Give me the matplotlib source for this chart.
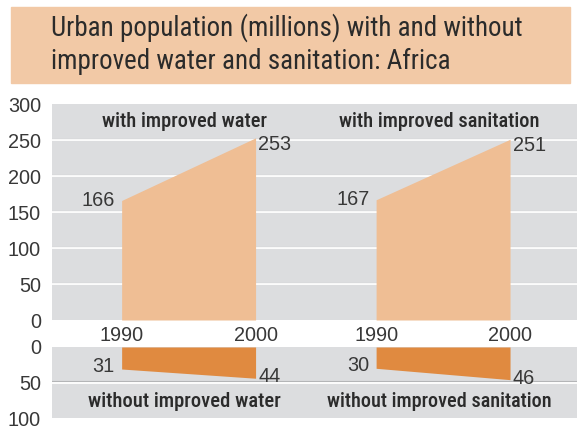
import matplotlib
matplotlib.use("Agg")
import matplotlib.pyplot as plt
from matplotlib import font_manager
from matplotlib.patches import Rectangle

years = [1990, 2000]
with_water = [166, 253]
with_sanitation = [167, 251]
without_water = [31, 44]
without_sanitation = [30, 46]

title = "Urban population (millions) with and without\nimproved water and sanitation: Africa"
top_labels = ["with improved water", "with improved sanitation"]
bottom_labels = ["without improved water", "without improved sanitation"]

GRAY = "#dcdddf"
LIGHT = "#efbe94"
DARK = "#e08a40"
TXT = "#2b2b2b"
NUMC = "#383838"
NUMFONT = "Liberation Sans"
NUMSIZE = 14.3

# pick a narrow face if one is around, the original uses a condensed sans
names = {f.name for f in font_manager.fontManager.ttflist}
NARROW = "DejaVu Sans"
STRETCH = "normal"
for cand in ["Liberation Sans Narrow", "Roboto Condensed", "Open Sans Condensed",
             "DejaVu Sans Condensed"]:
    if cand in names:
        NARROW = cand
        break
else:
    for f in font_manager.fontManager.ttflist:
        if f.name == "DejaVu Sans" and f.stretch == "condensed":
            STRETCH = "condensed"
            break

shift = [0, 19]  # second panel sits 19 "years" to the right
xlim = (1984.8, 2024.0)

fig = plt.figure(figsize=(5.8, 4.29), dpi=100)
renderer = fig.canvas.get_renderer()


def fit(t, width_px):
    # scale font so the text gets the same width as in the original
    w = t.get_window_extent(renderer).width
    t.set_fontsize(t.get_fontsize() * width_px / w)


# title box
fig.patches.append(Rectangle((11 / 580, 1 - 83 / 429), 559 / 580, 76 / 429,
                             transform=fig.transFigure, color="#f2c9a6", zorder=0))
tt = fig.text(51 / 580, 1 - 44 / 429, title, fontsize=17.5, family=NARROW, stretch=STRETCH,
              color=TXT, va="center", ha="left", linespacing=1.25)
fit(tt, 472)

ax = fig.add_axes([52 / 580, 1 - 320 / 429, 525 / 580, 216 / 429])
ax2 = fig.add_axes([52 / 580, 1 - 418 / 429, 525 / 580, 71 / 429])

for a in (ax, ax2):
    a.set_facecolor(GRAY)
    for s in a.spines.values():
        s.set_visible(False)
    a.set_xlim(*xlim)
    a.tick_params(axis="y", length=0, pad=8, labelsize=NUMSIZE, labelcolor=NUMC)
    for lab in a.get_yticklabels():
        lab.set_family(NUMFONT)

# top panel
ax.set_ylim(0, 300)
ax.set_yticks(range(0, 301, 50))
for g in range(50, 300, 50):
    ax.axhline(g + 1.0, color="#b4b5b7", lw=0.8, zorder=1)
    ax.axhline(g, color="white", lw=1.3, zorder=1)

top_w = [165, 200]
for k, vals in enumerate([with_water, with_sanitation]):
    xs = [y + shift[k] for y in years]
    ax.fill_between(xs, 0, vals, color=LIGHT, lw=0, zorder=2)
    ax.text(xs[0] - 0.5, vals[0], str(vals[0]), ha="right", va="center",
            fontsize=NUMSIZE, family=NUMFONT, color=NUMC)
    ax.text(xs[1] + 0.2, vals[1] - 9, str(vals[1]), ha="left", va="center",
            fontsize=NUMSIZE, family=NUMFONT, color=NUMC)
    t = ax.text((xs[0] + xs[1]) / 2 - 0.3, 276, top_labels[k], ha="center", va="center",
                fontsize=12, family=NARROW, stretch=STRETCH, color=TXT, fontweight="medium")
    fit(t, top_w[k])

xt = [y + s for s in shift for y in years]
ax.set_xticks(xt)
ax.set_xticklabels([str(y) for s in shift for y in years])
ax.tick_params(axis="x", length=0, pad=4, labelsize=NUMSIZE, labelcolor=NUMC)
for lab in ax.get_xticklabels():
    lab.set_family(NUMFONT)

# bottom panel (inverted)
ax2.set_ylim(100, 0)
ax2.set_yticks([0, 50, 100])
ax2.set_xticks([])
ax2.axhline(50 - 1.5, color="#b4b5b7", lw=0.8, zorder=1)
ax2.axhline(50, color="white", lw=1.3, zorder=1)

bot_w = [192, 225]
for k, vals in enumerate([without_water, without_sanitation]):
    xs = [y + shift[k] for y in years]
    ax2.fill_between(xs, 0, vals, color=DARK, lw=0, zorder=2)
    ax2.text(xs[0] - 0.5, vals[0] - 4, str(vals[0]), ha="right", va="center",
             fontsize=NUMSIZE, family=NUMFONT, color=NUMC)
    ax2.text(xs[1] + 0.2, vals[1] - 2, str(vals[1]), ha="left", va="center",
             fontsize=NUMSIZE, family=NUMFONT, color=NUMC)
    t = ax2.text((xs[0] + xs[1]) / 2 - 0.3, 77, bottom_labels[k], ha="center", va="center",
                 fontsize=12, family=NARROW, stretch=STRETCH, color=TXT, fontweight="medium")
    fit(t, bot_w[k])

fig.savefig("out.png", dpi=100)
